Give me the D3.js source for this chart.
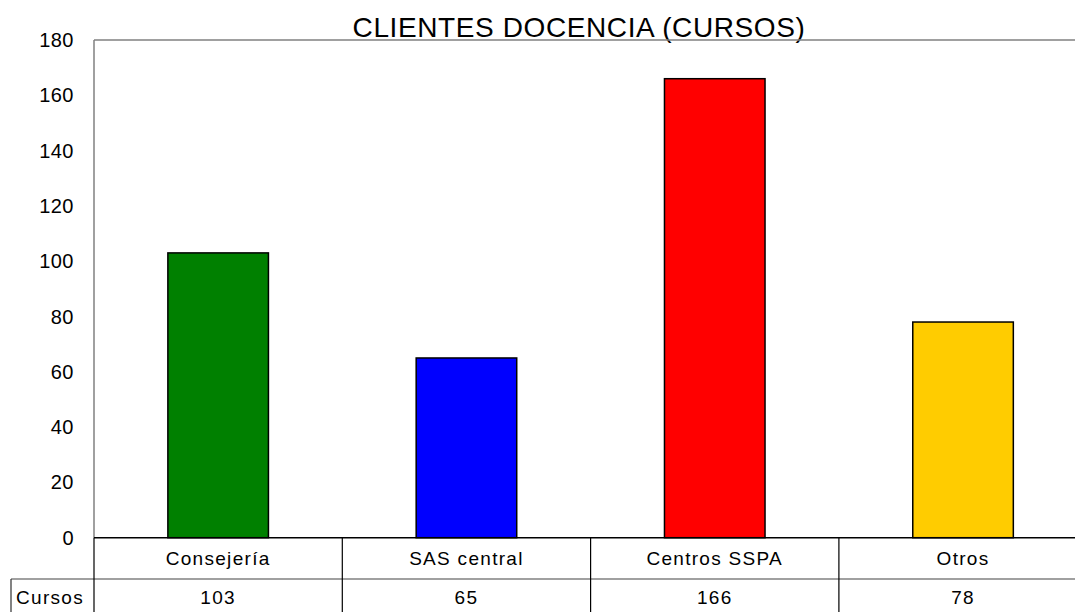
<!DOCTYPE html>
<html><head><meta charset="utf-8">
<script src="https://cdn.jsdelivr.net/npm/d3@7"></script>
<style>html,body{margin:0;padding:0;background:#fff;}svg{display:block;}text{font-family:Arial,"Liberation Sans",sans-serif;fill:#000;}</style>
</head><body>
<svg id="c" width="1075" height="612"></svg>
<script>
const categories = ["Consejería", "SAS central", "Centros SSPA", "Otros"];
const cursos = [103, 65, 166, 78];
const colors = ["#008000", "#0000FF", "#FF0000", "#FFCC00"];
const yTicks = [0, 20, 40, 60, 80, 100, 120, 140, 160, 180];
const seriesName = "Cursos";
const title = "CLIENTES DOCENCIA (CURSOS)";

const svg = d3.select("#c");
const pLeft = 94, pRight = 1087.2, pTop = 40, zero = 537.7, rowSep = 579, pBottom = 612;

const x = d3.scaleBand().domain(categories).range([pLeft, pRight]).padding(0);
const y = d3.scaleLinear().domain([0, 180]).range([zero, pTop]);

// title
svg.append("text").attr("x", 579).attr("y", 37).attr("text-anchor", "middle")
  .attr("font-size", 28).attr("letter-spacing", 0.6).text(title);

// plot frame: top & left gray
svg.append("line").attr("x1", pLeft).attr("x2", 1075).attr("y1", pTop).attr("y2", pTop).attr("stroke", "#808080").attr("stroke-width", 1.5);
svg.append("line").attr("x1", pLeft).attr("x2", pLeft).attr("y1", pTop).attr("y2", zero).attr("stroke", "#808080").attr("stroke-width", 1.5);

// y tick labels
svg.append("g").selectAll("text").data(yTicks).join("text")
  .attr("x", 74).attr("y", d => y(d)).attr("dy", "0.35em").attr("text-anchor", "end")
  .attr("font-size", 20).attr("letter-spacing", 0.5).text(d => d);

// bars
const bw = x.bandwidth() * 0.405;
svg.append("g").selectAll("rect").data(cursos).join("rect")
  .attr("x", (d, i) => x(categories[i]) + x.bandwidth() / 2 - bw / 2)
  .attr("width", bw)
  .attr("y", d => y(d))
  .attr("height", d => zero - y(d))
  .attr("fill", (d, i) => colors[i])
  .attr("stroke", "#000").attr("stroke-width", 1.5);

// data table
svg.append("line").attr("x1", 11).attr("x2", 1075).attr("y1", rowSep).attr("y2", rowSep).attr("stroke", "#808080").attr("stroke-width", 1.5);
svg.append("line").attr("x1", pLeft).attr("x2", 1075).attr("y1", zero).attr("y2", zero).attr("stroke", "#000").attr("stroke-width", 1.5);
svg.append("line").attr("x1", 11).attr("x2", 11).attr("y1", rowSep).attr("y2", pBottom).attr("stroke", "#303030").attr("stroke-width", 1.2);
const bounds = [pLeft].concat(categories.map(c => x(c) + x.bandwidth()));
svg.append("g").selectAll("line").data(bounds).join("line")
  .attr("x1", d => d).attr("x2", d => d).attr("y1", zero).attr("y2", pBottom)
  .attr("stroke", "#000").attr("stroke-width", 1.2);

// category labels
svg.append("g").selectAll("text").data(categories).join("text")
  .attr("x", d => x(d) + x.bandwidth() / 2).attr("y", (zero + rowSep) / 2).attr("dy", "0.35em")
  .attr("text-anchor", "middle").attr("font-size", 19).attr("letter-spacing", 1.3).text(d => d);

// values
svg.append("g").selectAll("text").data(cursos).join("text")
  .attr("x", (d, i) => x(categories[i]) + x.bandwidth() / 2).attr("y", 597).attr("dy", "0.35em")
  .attr("text-anchor", "middle").attr("font-size", 19).attr("letter-spacing", 1.3).text(d => d);

svg.append("text").attr("x", 16).attr("y", 597).attr("dy", "0.35em")
  .attr("font-size", 19).attr("letter-spacing", 1.3).text(seriesName);
</script>
</body></html>
